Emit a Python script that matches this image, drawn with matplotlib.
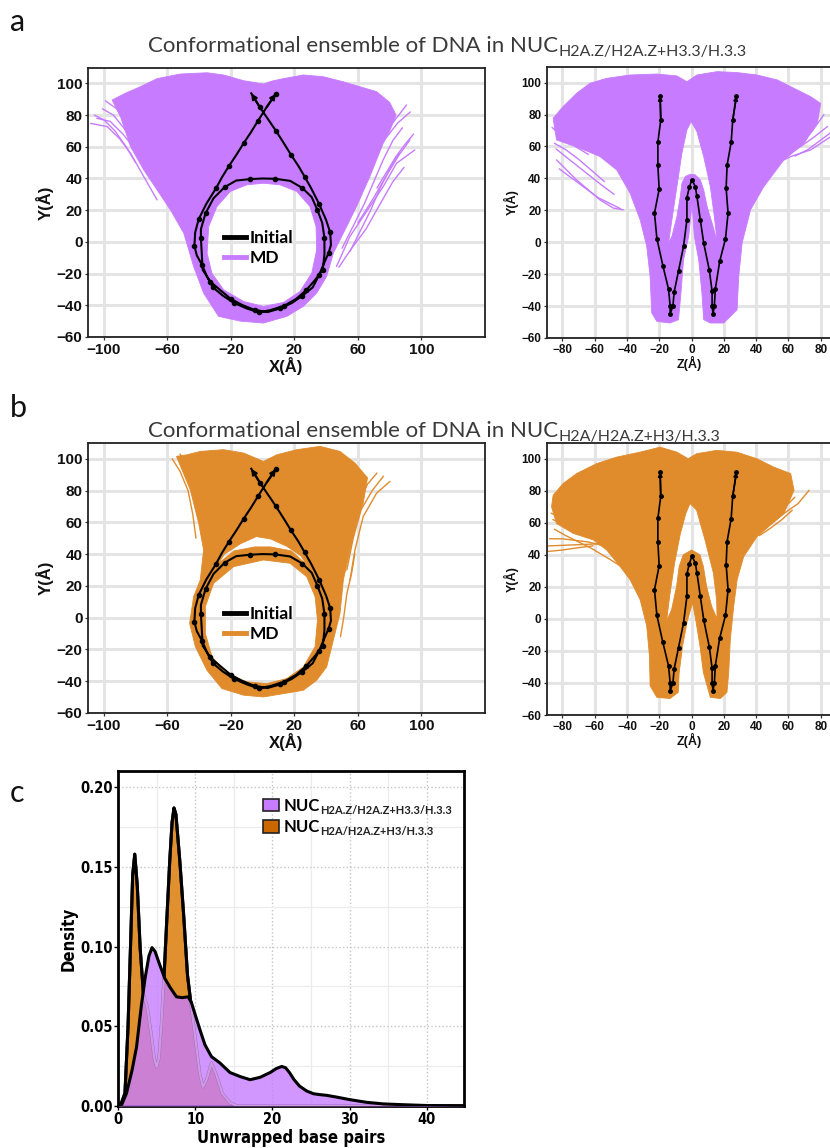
import numpy as np
import matplotlib
matplotlib.use('Agg')
import matplotlib.pyplot as plt
from matplotlib.path import Path
from matplotlib.patches import PathPatch, Patch
from matplotlib.lines import Line2D

plt.rcParams['font.family'] = ['Liberation Sans', 'DejaVu Sans']

# ---------------- colours ----------------
PURPLE = '#c77cff'
ORANGE = '#e08b2c'

# ---------------- Initial DNA path (XY projection) ----------------
INIT_XY_X = [8.3, 2.5, -3.0, -7.5, -12.0, -16.5, -21.2, -25.5, -29.4, -35.5, -40.3, -42.5, -43.0, -41.5,
             -38.2, -35.0, -31.3, -25.0, -17.9, -10.0, -2.6, 5.0, 13.5, 21.0, 27.3, 33.0, 37.8, 38.9,
             38.9, 37.5, 34.5, 30.9, 25.0, 17.3, 8.0, -0.1, -8.0, -16.7, -24.0, -30.9, -36.0, -38.9,
             -38.9, -37.8, -33.0, -26.3, -20.0, -13.1, -5.0, 3.0, 11.0, 18.3, 25.0, 31.5, 35.5, 38.2,
             41.5, 43.0, 42.5, 39.9, 35.5, 30.5, 26.5, 22.5, 17.8, 13.1, 8.4, 3.7, -1.8, -7.2]
INIT_XY_Y = [93.5, 85.0, 76.3, 69.0, 62.2, 55.0, 47.9, 41.0, 33.8, 24.0, 14.3, 6.0, -2.5, -8.5,
             -14.5, -22.0, -28.7, -34.0, -38.6, -42.0, -44.5, -43.0, -40.3, -36.0, -30.6, -24.0, -17.6, -8.0,
             2.4, 12.0, 20.0, 28.2, 34.0, 38.5, 39.8, 40.0, 39.6, 38.7, 34.5, 27.6, 18.0, 8.0,
             2.4, -17.6, -25.0, -30.8, -36.0, -39.7, -43.0, -44.3, -42.0, -38.6, -34.0, -28.7, -21.0, -14.5,
             -7.0, -1.9, 6.0, 13.9, 24.0, 33.9, 41.0, 47.9, 55.0, 62.6, 70.0, 76.9, 85.0, 93.7]

# ---------------- Initial DNA path (ZY projection) ----------------
INIT_ZY_Z = [-19.5, -19.1, -20.9, -20.9, -20.1, -23.0, -21.5, -17.8, -14.3, -13.3, -13.3, -11.6, -10.8,
             -8.1, -5.0, -2.9, -2.9, -1.4, 0.2, 2.3, 3.3, 5.4, 7.5, 11.0, 12.7, 12.7, 13.3, 14.1, 14.7,
             17.4, 21.0, 22.6, 21.4, 22.0, 24.5, 25.5, 27.8]
INIT_ZY_Y = [91.7, 76.6, 62.7, 48.3, 33.2, 18.2, 2.2, -14.7, -29.3, -39.8, -44.8, -40.2, -31.2,
             -17.9, -2.6, 14.1, 28.0, 34.5, 39.1, 34.9, 28.7, 14.1, -0.5, -17.6, -30.8, -40.2, -44.8, -39.8, -29.3,
             -12.0, 2.2, 18.2, 33.9, 48.3, 62.5, 76.6, 91.7]

# ---------------- MD ensemble envelope, panel a (XY) ----------------
A_XY_OUT_X = [-94.8, -86, -77, -66.5, -51.8, -35, -24.6, -12, 0.5, 6, 13.1, 25.6, 38.2, 50.8, 61.2, 71.7,
              80, 84, 80, 75.9, 67.5, 59.1, 50.8, 44.5, 40.3, 34, 25.6, 15.2, 0.5, -14, -27.8, -37.2,
              -43.5, -49.7, -58.1, -66.5, -74.9, -83.2, -89.5]
A_XY_OUT_Y = [89.5, 94, 97.9, 103, 105.9, 106.7, 105.3, 101.7, 99.6, 101.5, 103, 105.3, 104.2, 101, 97.9, 94.8,
              88, 80, 70, 62.2, 41.2, 22.3, 5.5, -7.1, -21.8, -32.3, -40.7, -47, -51.2, -50, -47, -32.3,
              -15.5, 5.5, 20.2, 32.8, 45.4, 60.1, 79]
A_XY_HOLE_X = [0.5, 11, 21.5, 29.8, 33.6, 34, 30.9, 23.5, 13.1, 0.5, -12, -24.6, -32, -35, -34, -28.8, -20.4, -10]
A_XY_HOLE_Y = [37, 36, 31.8, 22.3, 9.7, -5, -19.7, -31.3, -38.2, -40.7, -37.6, -30.2, -19.7, -7.1, 9.7, 22.3, 31.8, 36]
A_XY_STRAYS = [
    ([-108.4, -97.9, -90, -83.2, -74.9, -66.5], [74.8, 72.7, 65, 55.9, 41.2, 26.5]),
    ([-104.5, -96, -88, -80, -72], [78, 76, 68, 58, 45]),
    ([-99, -92, -85, -78], [89, 84, 72, 62]),
    ([-101, -94, -86, -79, -72, -64], [84, 80, 70, 58, 46, 33]),
    ([-106, -100, -93, -86, -80], [80, 77, 70, 60, 50]),
    ([95.8, 84.3, 75.9, 63.3, 54.9, 46.5], [58, 49.6, 34.9, 16, 3.4, -15.5]),
    ([92.7, 86, 78, 70, 60], [64.3, 55, 42, 28, 12]),
    ([90.6, 80.1, 71.7, 66], [86.4, 72.7, 60.1, 50]),
    ([89, 82, 74, 65, 56, 48], [47, 38, 24, 8, -4, -16]),
    ([93, 85, 78, 72], [82, 75, 66, 58]),
    ([88, 82, 76, 70, 64, 57, 50], [72, 64, 52, 38, 24, 10, -4]),
    ([95, 90, 84, 78, 72], [68, 62, 54, 44, 34]),
    ([86, 80, 74, 68, 62, 55], [56, 46, 34, 20, 8, -6]),
]

# ---------------- MD ensemble envelope, panel a (ZY) ----------------
A_ZY_OUT_X = [-85.8, -79.6, -71.3, -63, -52.6, -38.1, -21.5, -9.1, -2.9, 3.3, 15.8, 28.2, 40.6, 53.1, 65.5,
              73.8, 80, 78, 69.7, 57.2, 44.8, 36.5, 31.3, 29.2, 28.2, 19.9, 11.6, 7.5, 6.4, 4.4, 1.7, 0.3,
              -1.8, -5, -6.6, -8.1, -13.3, -21.5, -24.7, -25.7, -27.8, -31.9, -38.1, -46.4, -56.8, -69.2, -83.7]
A_ZY_OUT_Y = [77.7, 85, 93.3, 99.6, 102.7, 104.8, 105.4, 104.2, 100.6, 104.8, 106.9, 106.3, 104.8, 101.7, 95.4,
              91.2, 87, 75, 62, 51.6, 34.9, 20.3, -0.5, -21.4, -42.3, -50.6, -50.6, -48.5, -31.8, -11, 3.6, 24,
              3.6, -11, -31.8, -48.5, -50.6, -49.6, -44.3, -21.4, -2.6, 14.1, 30.7, 45.3, 53.7, 58.9, 64.1]
A_ZY_HOLE_X = [-14.3, -12.2, -9.1, -6, -2.9, -0.2, 3.3, 7.5, 11.6, 14.1, 15.8, 13.3, 9.6, 7.5, 5.4, 2.3,
               -0.8, -3.9, -6, -7, -9.1, -12.2]
A_ZY_HOLE_Y = [-0.5, 14.1, 34.9, 55.8, 70.4, 75.6, 69.3, 53.7, 34.9, 16.1, 0.5, 9.9, 22.4, 32.8, 39.1, 42.2,
               42.6, 41.2, 37, 28.7, 16.1, 3.6]
A_ZY_STRAYS = [
    ([-83.7, -71.3, -56.8, -48.5, -42.3], [51.6, 39.1, 26.6, 21.4, 20.3]),
    ([-84, -76, -66, -56, -48], [58.5, 52, 44, 36, 30]),
    ([-86.5, -80, -72, -64], [72, 66, 60, 55]),
    ([-85, -78, -70, -62, -54], [62, 58, 52, 45, 38]),
    ([-82, -74, -66, -58, -50, -44], [46, 40, 34, 28, 24, 21]),
    ([86.3, 73.8, 61.4, 54], [66.2, 57.9, 53.7, 50]),
    ([84.2, 76, 67.6, 60], [72.5, 66, 60, 55]),
    ([82, 75, 68], [80, 70, 62]),
    ([88, 80, 72, 64], [70, 64, 58, 54]),
    ([78, 70, 62, 56], [84, 74, 66, 60]),
]

# ---------------- MD ensemble envelope, panel b (XY) ----------------
B_XY_OUT_X = [-54.3, -47.6, -39.3, -24.6, -12, 0.5, 8.9, 21.5, 36.1, 48.7, 58.1, 66, 63.3, 59.1, 55, 50.8,
              48.7, 44.5, 40.3, 34, 25.6, 13.1, 0.5, -12, -25.7, -35.1, -42.4, -46, -43.5, -39.3, -37.2, -40.3, -45.6]
B_XY_OUT_Y = [101.5, 102.5, 104.6, 105.7, 103.6, 98.3, 102.5, 105.7, 107.8, 104.6, 97.3, 88, 72, 59.4, 42.6, 23.7,
              2.7, -14.1, -31, -39.4, -45.7, -47.8, -49.9, -48.8, -44.6, -33.1, -18.3, -3.6, 13.2, 23.7, 42.6, 59.4, 80.5]
B_XY_HOLE_X = [0.5, 17.3, 27.7, 33, 34.5, 33, 25.6, 15.2, 2.6, -9.9, -22.5, -31.9, -36.1, -36.1, -30.9, -18.3]
B_XY_HOLE_Y = [36.3, 34.2, 25.8, 13.2, -1.5, -18.3, -31, -38.3, -41.5, -40.4, -35.2, -24.7, -9.9, 6.9, 21.6, 32.1]
B_XY_GAP_X = [-32, -24, -14, -4, 5, 15, 24, 28, 18, 5, -5, -18, -28]
B_XY_GAP_Y = [28, 40, 46.5, 51, 49.5, 45, 39, 33, 42, 44.5, 44.5, 42, 34]
B_XY_STRAYS = [
    ([80.1, 71.7, 63.3, 58.1, 55], [85.7, 78.3, 63.6, 42.6, 23.7]),
    ([76, 69, 62, 57, 53], [89, 80, 68, 50, 30]),
    ([72, 66, 60, 56.5], [91, 84, 70, 55]),
    ([58, 56, 53, 51, 49], [40, 28, 15, 0, -12]),
    ([-57, -52, -47, -44, -42], [100, 92, 80, 65, 50]),
    ([-52, -48, -44, -41], [103, 95, 85, 70]),
]

# ---------------- MD ensemble envelope, panel b (ZY) ----------------
B_ZY_OUT_X = [-86.8, -85.8, -79.6, -71.3, -58.9, -46.4, -31.9, -19.5, -9.1, -2.1, 3.1, 15.5, 27.9, 40.4, 50.8,
              61.4, 63.5, 57.2, 40.6, 32.3, 28.2, 26.1, 24, 23, 21.9, 17.8, 11.6, 7.3, 5.2, 2.7, 0.6, -2.7,
              -5.6, -7.7, -8.3, -13.3, -21.5, -25.7, -26.1, -27.8, -31.9, -38.1, -44.3, -52.6, -60.9, -73.4, -83.7]
B_ZY_OUT_Y = [70, 77.2, 84.5, 90.7, 96.9, 101, 104.1, 107.2, 104.1, 100, 103.1, 105.2, 104.1, 100, 94.8,
              90.7, 80.3, 65.8, 51.4, 38.9, 24.4, 7.9, -12.8, -33.5, -45.9, -49.7, -49, -33.5, -17, -1.4, 10, -1.4,
              -17, -33.5, -45.9, -49.7, -49, -41.8, -23.2, -4.5, 12, 24.4, 32.7, 43, 49.3, 53.4, 59.6]
B_ZY_HOLE_X = [-15.5, -13.5, -10.5, -7, -3.5, -1, 3.1, 8.3, 13.5, 15.5, 15.8, 12.4, 9.3, 7.3, 5.2, 0,
               -5.2, -7.7, -9.3, -12.4]
B_ZY_HOLE_Y = [-1.4, 15, 35, 53, 66, 72, 67.9, 49.3, 28.6, 12, 0, 7.9, 20.3, 32.7, 40, 43,
               40, 32.7, 20.3, 5.8]
B_ZY_STRAYS = [
    ([-90, -80, -70, -61], [42, 43, 44.5, 45.6]),
    ([-90, -78, -66, -56], [45.5, 46, 46.5, 47]),
    ([-88, -80, -72, -64, -56], [50, 50, 49, 48, 46]),
    ([-85, -78, -70, -62, -52, -44], [56, 52, 48, 44, 38, 33]),
    ([-86, -76, -66, -58], [62, 58, 54, 50]),
    ([-87, -80, -72, -64], [66, 63, 58, 54]),
    ([-83, -76, -68, -60], [77, 72, 66, 60]),
    ([72.8, 66, 57.2, 50], [80.3, 72, 65.8, 60]),
    ([62.4, 56, 48, 42], [67.9, 62, 56, 52]),
    ([64, 58, 52], [76, 70, 64]),
]

# ---------------- Panel c densities ----------------
DENS_Z_X = [0, 0.5, 1.1, 1.8, 2.4, 3.0, 3.5, 4.0, 4.4, 4.8, 5.3, 6.06, 6.8, 7.57, 8.3, 9.08, 9.5, 9.95,
            10.6, 11.25, 12.1, 13.2, 14.5, 15.8, 17.1, 18.4, 19.7, 20.5, 21.2, 21.7, 22.2, 22.8, 23.5,
            24.4, 25.3, 26.2, 27.0, 28.3, 30.0, 32.2, 34.4, 37.0, 40.0, 44.8]
DENS_Z_Y = [0, 0.001, 0.008, 0.022, 0.037, 0.062, 0.08, 0.094, 0.0994, 0.097, 0.09, 0.08, 0.074, 0.0685,
            0.068, 0.0685, 0.065, 0.058, 0.048, 0.0385, 0.031, 0.027, 0.021, 0.0185, 0.0165, 0.018, 0.021,
            0.0235, 0.0248, 0.024, 0.021, 0.0165, 0.0125, 0.0095, 0.0077, 0.0071, 0.0067, 0.0056, 0.004,
            0.0023, 0.0013, 0.0008, 0.0003, 0.0001]
DENS_A_X = [0, 0.3, 0.9, 1.3, 1.65, 1.9, 2.17, 2.5, 2.87, 3.3, 3.8, 4.3, 4.7, 5.0, 5.3, 5.6, 6.0, 6.3,
            6.7, 7.0, 7.25, 7.5, 8.0, 8.5, 9.0, 9.5, 10.2, 10.6, 11.0, 11.5, 12.1, 12.7, 13.5, 14.5, 15.5, 44.8]
DENS_A_Y = [0, 0.0, 0.008, 0.05, 0.105, 0.145, 0.158, 0.138, 0.099, 0.07, 0.062, 0.045, 0.03, 0.0245,
            0.03, 0.05, 0.085, 0.115, 0.154, 0.178, 0.187, 0.183, 0.154, 0.12, 0.082, 0.062, 0.035, 0.02,
            0.012, 0.017, 0.027, 0.02, 0.008, 0.002, 0.0, 0.0]

XY_XTICKS = [-100, -60, -20, 20, 60, 100]
Y_TICKS = [-60, -40, -20, 0, 20, 40, 60, 80, 100]
ZY_XTICKS = [-80, -60, -40, -20, 0, 20, 40, 60, 80]
C_XTICKS = [0, 10, 20, 30, 40]
C_YTICKS = [0.00, 0.05, 0.10, 0.15, 0.20]
NUC_SUBS = ['H2A.Z/H2A.Z+H3.3/H.3.3', 'H2A/H2A.Z+H3/H.3.3']
TITLE_MAIN = 'Conformational ensemble of DNA in NUC'

W, H = 830, 1148
fig = plt.figure(figsize=(W / 100, H / 100), dpi=100)
renderer = fig.canvas.get_renderer()


def rect(l, t, r, b):
    return [l / W, 1 - b / H, (r - l) / W, (b - t) / H]


def ring_path(xs, ys, ccw):
    v = np.column_stack([xs, ys]).astype(float)
    area = 0.5 * np.sum(v[:, 0] * np.roll(v[:, 1], -1) - np.roll(v[:, 0], -1) * v[:, 1])
    if (area > 0) != ccw:
        v = v[::-1]
    v = np.vstack([v, v[:1]])
    codes = [Path.MOVETO] + [Path.LINETO] * (len(v) - 2) + [Path.CLOSEPOLY]
    return Path(v, codes)


def draw_ensemble(ax, outer, holes, strays, color):
    p = Path.make_compound_path(ring_path(*outer, True), *[ring_path(*h, False) for h in holes])
    ax.add_patch(PathPatch(p, facecolor=color, edgecolor=color, lw=0.6, zorder=2))
    for sx, sy in strays:
        ax.plot(sx, sy, color=color, lw=1.0, zorder=2, solid_capstyle='round')


def draw_initial(ax, x, y, lw, ms, every, ms_arrow):
    ax.plot(x, y, color='black', lw=lw, marker='o', ms=ms, markevery=every, zorder=4)
    for i0, i1 in [(1, 0), (-2, -1)]:
        ax.annotate('', xy=(x[i1], y[i1]), xytext=(x[i0], y[i0]),
                    arrowprops=dict(arrowstyle='-|>', color='black', lw=lw, mutation_scale=ms_arrow,
                                    shrinkA=0, shrinkB=0), zorder=5)


def style_axes(ax, xlim, ylim, xticks, fs, lfs, xlabel, ylabel, xlpad, ylpad):
    ax.set_xlim(xlim)
    ax.set_ylim(ylim)
    ax.set_xticks(xticks)
    ax.set_yticks(Y_TICKS)
    ax.grid(True, color='#e4e4e4', lw=2.2)
    ax.set_axisbelow(True)
    for s in ax.spines.values():
        s.set_color('#222222')
        s.set_linewidth(1.3)
    ax.tick_params(length=2.5, width=0.9, color='#333333', labelsize=fs, pad=1.5, labelcolor='#111111')
    for lab in ax.get_xticklabels() + ax.get_yticklabels():
        lab.set_fontweight('bold')
    ax.set_xlabel(xlabel, fontsize=lfs, fontweight='bold', labelpad=xlpad, color='#111111')
    ax.set_ylabel(ylabel, fontsize=lfs, fontweight='bold', labelpad=ylpad, color='#111111')


def md_legend(ax, color):
    ax.legend(handles=[Line2D([], [], color='black', lw=3.5), Line2D([], [], color=color, lw=3.5)],
              labels=['Initial', 'MD'], loc='center', bbox_to_anchor=(0.43, 0.33), frameon=False,
              prop=dict(family='Lato', weight='bold', size=12.5), handlelength=1.25, handletextpad=0.25,
              labelspacing=0.25, borderpad=0.2)


def add_subscript(txt, sub, fs, **kw):
    """Place a subscript text just right of an existing text artist."""
    bb = txt.get_window_extent(renderer)
    fig.text(bb.x1 / W, bb.y0 / H, sub, fontsize=fs, va='baseline', ha='left', **kw)


# ---- panel a ----
ax1 = fig.add_axes(rect(88, 68, 485, 337))
draw_ensemble(ax1, (A_XY_OUT_X, A_XY_OUT_Y), [(A_XY_HOLE_X, A_XY_HOLE_Y)], A_XY_STRAYS, PURPLE)
draw_initial(ax1, INIT_XY_X, INIT_XY_Y, 1.5, 3.0, 2, 8)
style_axes(ax1, (-110, 140), (-60, 109.7), XY_XTICKS, 11, 12, 'X(Å)', 'Y(Å)', 0, 2)
md_legend(ax1, PURPLE)

ax2 = fig.add_axes(rect(547, 67, 832, 338))
draw_ensemble(ax2, (A_ZY_OUT_X, A_ZY_OUT_Y), [(A_ZY_HOLE_X, A_ZY_HOLE_Y)], A_ZY_STRAYS, PURPLE)
draw_initial(ax2, INIT_ZY_Z, INIT_ZY_Y, 1.2, 2.5, 1, 6)
style_axes(ax2, (-89.6, 87), (-60, 109.8), ZY_XTICKS, 8.5, 9, 'Z(Å)', 'Y(Å)', 0, 2)

# ---- panel b ----
ax3 = fig.add_axes(rect(88, 443, 485, 713))
draw_ensemble(ax3, (B_XY_OUT_X, B_XY_OUT_Y), [(B_XY_HOLE_X, B_XY_HOLE_Y), (B_XY_GAP_X, B_XY_GAP_Y)],
              B_XY_STRAYS, ORANGE)
draw_initial(ax3, INIT_XY_X, INIT_XY_Y, 1.5, 3.0, 2, 8)
style_axes(ax3, (-110, 140), (-60, 109.9), XY_XTICKS, 11, 12, 'X(Å)', 'Y(Å)', 0, 2)
md_legend(ax3, ORANGE)

ax4 = fig.add_axes(rect(547, 443, 832, 715))
draw_ensemble(ax4, (B_ZY_OUT_X, B_ZY_OUT_Y), [(B_ZY_HOLE_X, B_ZY_HOLE_Y)], B_ZY_STRAYS, ORANGE)
draw_initial(ax4, INIT_ZY_Z, INIT_ZY_Y, 1.2, 2.5, 1, 6)
style_axes(ax4, (-89.6, 87), (-60, 109.8), ZY_XTICKS, 8.5, 9, 'Z(Å)', 'Y(Å)', 0, 2)

# ---- panel c ----
ax5 = fig.add_axes(rect(118, 771, 464, 1106))
C_PURPLE = '#c77cff'
C_ORANGE = '#e0902f'
ax5.fill_between(DENS_A_X, 0, DENS_A_Y, color=C_ORANGE, lw=0, zorder=2)
ax5.plot(DENS_A_X, DENS_A_Y, color='black', lw=2.2, zorder=3, solid_joinstyle='round')
clip_poly = ring_path(list(DENS_Z_X) + [44.8, 0], list(DENS_Z_Y) + [1.0, 1.0], True)
ax5.fill_between(DENS_Z_X, 0, DENS_Z_Y, color=C_PURPLE, alpha=0.8, lw=0, zorder=4)
ax5.plot(DENS_A_X, DENS_A_Y, color='#d9a9e3', lw=1.6, zorder=4.5, alpha=0.8)
oline2, = ax5.plot(DENS_A_X, DENS_A_Y, color='black', lw=2.2, zorder=5, solid_joinstyle='round')
oline2.set_clip_path(clip_poly, ax5.transData)
ax5.plot(DENS_Z_X, DENS_Z_Y, color='black', lw=2.2, zorder=6, solid_joinstyle='round')
ax5.set_xlim(0, 44.8)
ax5.set_ylim(0, 0.2102)
ax5.set_xticks(C_XTICKS)
ax5.set_yticks(C_YTICKS)
ax5.set_yticklabels([f'{v:.2f}' for v in C_YTICKS])
ax5.set_xticks([5, 15, 25, 35], minor=True)
ax5.set_yticks([0.025, 0.075, 0.125, 0.175], minor=True)
ax5.grid(True, which='major', color='#c4c4c4', ls=':', lw=1.0)
ax5.grid(True, which='minor', color='#ececec', ls='-', lw=0.9)
ax5.set_axisbelow(True)
for s in ax5.spines.values():
    s.set_color('black')
    s.set_linewidth(2.0)
ax5.tick_params(which='major', length=3, width=1, labelsize=10.5, pad=1)
ax5.tick_params(which='minor', length=0)
for lab in ax5.get_xticklabels() + ax5.get_yticklabels():
    lab.set_fontweight('bold')
    lab.set_family('DejaVu Sans')
    lab.set_stretch('condensed')
ax5.set_xlabel('Unwrapped base pairs', fontsize=12, fontweight='bold', family='DejaVu Sans',
               fontstretch='condensed', labelpad=2)
ax5.set_ylabel('Density', fontsize=12, fontweight='bold', family='DejaVu Sans',
               fontstretch='condensed', labelpad=2)
leg = ax5.legend(handles=[Patch(facecolor=C_PURPLE, edgecolor='#222222', lw=1.2),
                          Patch(facecolor='#cc6600', edgecolor='#222222', lw=1.2)],
                 labels=['NUC', 'NUC'], loc='upper left', bbox_to_anchor=(0.385, 0.955), frameon=False,
                 prop=dict(family='Lato', weight='bold', size=12), handlelength=0.95, handleheight=0.8,
                 handletextpad=0.3, labelspacing=0.32, borderpad=0.2)

# ---- titles / panel letters ----
fig.text(10 / W, 1 - 31 / H, 'a', fontsize=22, family='Lato', va='baseline', color='#111111')
fig.text(10 / W, 1 - 417 / H, 'b', fontsize=22, family='Lato', va='baseline', color='#111111')
fig.text(10 / W, 1 - 802 / H, 'c', fontsize=22, family='Lato', va='baseline', color='#111111')
t1 = fig.text(148 / W, 1 - 52 / H, TITLE_MAIN, fontsize=16, family='Lato', va='baseline', color='#3a3a3a')
t2 = fig.text(148 / W, 1 - 437 / H, TITLE_MAIN, fontsize=16, family='Lato', va='baseline', color='#3a3a3a')

fig.canvas.draw()
add_subscript(t1, NUC_SUBS[0], 11.5, family='Lato', color='#3a3a3a')
add_subscript(t2, NUC_SUBS[1], 11.5, family='Lato', color='#3a3a3a')
for txt, sub in zip(leg.get_texts(), NUC_SUBS):
    add_subscript(txt, sub, 8, family='Lato', weight='bold', color='#222222')

fig.savefig('out.png', dpi=100)
